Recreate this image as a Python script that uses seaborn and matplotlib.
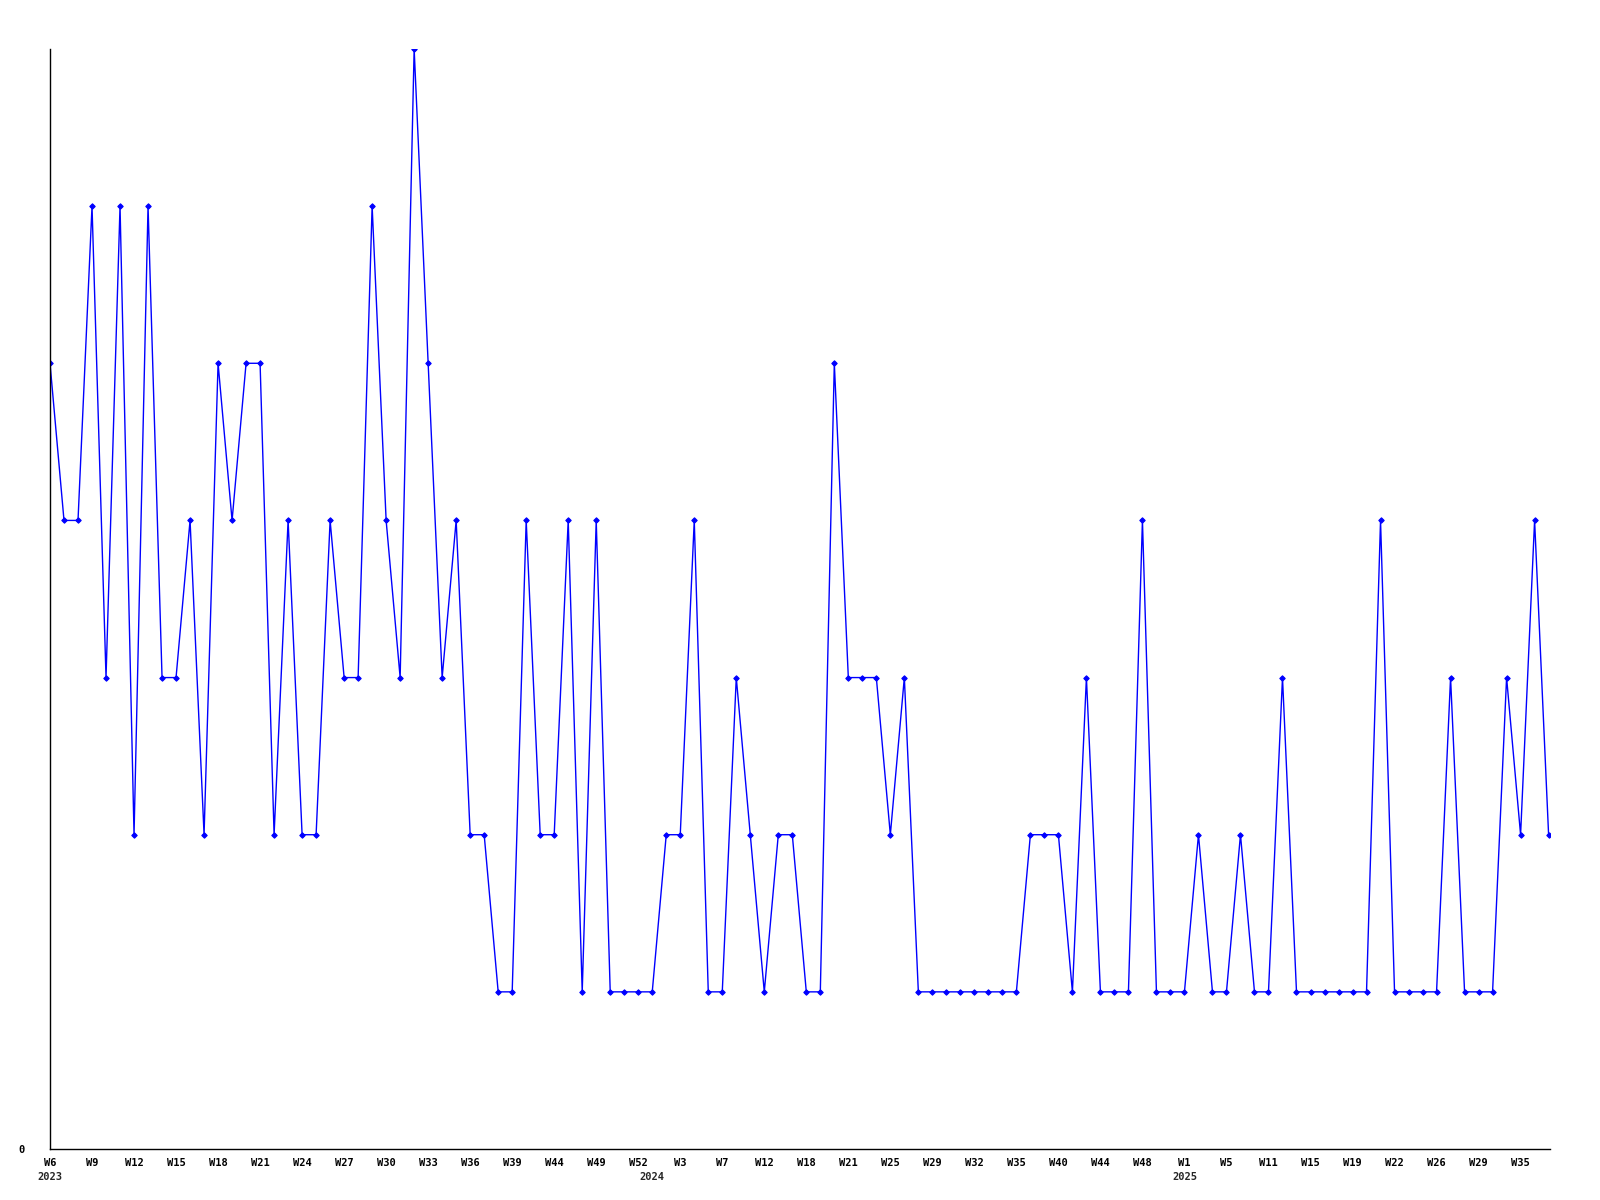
import numpy as np
import pandas as pd
import seaborn as sns
import matplotlib.pyplot as plt

# weekly values, one per point
values = [5, 4, 4, 6, 3, 6, 2, 6, 3, 3,
          4, 2, 5, 4, 5, 5, 2, 4, 2, 2,
          4, 3, 3, 6, 4, 3, 7, 5, 3, 4,
          2, 2, 1, 1, 4, 2, 2, 4, 1, 4,
          1, 1, 1, 1, 2, 2, 4, 1, 1, 3,
          2, 1, 2, 2, 1, 1, 5, 3, 3, 3,
          2, 3, 1, 1, 1, 1, 1, 1, 1, 1,
          2, 2, 2, 1, 3, 1, 1, 1, 4, 1,
          1, 1, 2, 1, 1, 2, 1, 1, 3, 1,
          1, 1, 1, 1, 1, 4, 1, 1, 1, 1,
          3, 1, 1, 1, 3, 2, 4, 2]

# labels shown on every third point
week_labels = ["W6", "W9", "W12", "W15", "W18", "W21", "W24", "W27", "W30",
               "W33", "W36", "W39", "W44", "W49", "W52", "W3", "W7", "W12",
               "W18", "W21", "W25", "W29", "W32", "W35", "W40", "W44", "W48",
               "W1", "W5", "W11", "W15", "W19", "W22", "W26", "W29", "W35"]
label_step = 3

# year names and the point where each year starts
years = ["2023", "2024", "2025"]
year_start = [0, 43, 81]

df = pd.DataFrame({"idx": np.arange(len(values)), "value": values})

sns.set_theme(style="white")
plt.rcParams['font.family'] = ['DejaVu Sans Mono', 'DejaVu Sans']

fig = plt.figure(figsize=(16, 12), dpi=100)
ax = fig.add_axes([50 / 1600, 51 / 1200, 1500 / 1600, 1100 / 1200])

sns.lineplot(data=df, x="idx", y="value", ax=ax, color="#0000ff",
             linewidth=1.0, marker="D", markersize=2.8,
             markeredgecolor="#0000ff", markerfacecolor="#0000ff")

ax.set_xlim(0, len(values) - 0.9)
ax.set_ylim(0, max(values))

tick_pos = np.arange(len(week_labels)) * label_step
ax.set_xticks(tick_pos)
ax.set_xticklabels(week_labels, fontsize=7.5, fontweight="bold")
ax.set_yticks([0])
ax.set_yticklabels(["0"], fontsize=7.5, fontweight="bold")
ax.tick_params(axis="x", length=0, pad=6.5, colors="black")
ax.tick_params(axis="y", length=0, pad=18.5, colors="black")

for name, pos in zip(years, year_start):
    ax.annotate(name, xy=(pos, 0), xycoords=("data", "axes fraction"),
                xytext=(0, -20), textcoords="offset points",
                ha="center", va="center", fontsize=7.5, fontweight="bold")

ax.set_xlabel("")
ax.set_ylabel("")
sns.despine(ax=ax)
for side in ["left", "bottom"]:
    ax.spines[side].set_color("black")
    ax.spines[side].set_linewidth(1.0)

fig.savefig("out.png", dpi=100, facecolor="white")
